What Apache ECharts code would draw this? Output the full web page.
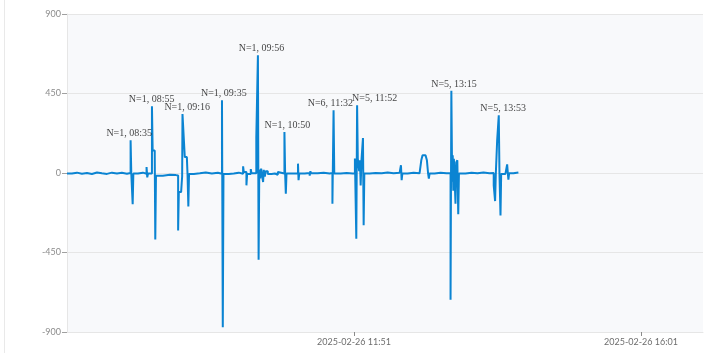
<!DOCTYPE html>
<html>
<head>
<meta charset="utf-8">
<script src="https://cdn.jsdelivr.net/npm/echarts@6/dist/echarts.min.js"></script>
<style>
  html, body { margin: 0; padding: 0; background: #ffffff; }
  #frame { position: absolute; left: 4px; top: 0; width: 1px; height: 353px; background: #e9e9e9; }
  #chart { position: absolute; left: 0; top: 0; width: 707px; height: 353px; }
</style>
</head>
<body>
<div id="frame"></div>
<div id="chart"></div>
<script>
// x values: minutes since 00:00 on 2025-02-26
const times = [
  461.0, 465.3, 469.7, 474.0, 478.4, 482.7, 487.1, 491.4, 495.8, 500.1, 504.5, 508.8, 513.2,
  516.4, 517.0, 518.2, 518.8, 522.8, 527.1, 530.3, 530.9, 531.6,
  535.0, 535.6, 537.4, 537.9, 538.5, 544.5, 550.6, 555.8,
  557.8, 558.4, 560.4, 560.9, 561.3, 561.6, 563.0, 563.6, 565.4, 566.0, 566.7, 567.3,
  571.5, 576.7, 581.9, 587.2, 592.4, 596.0, 596.7, 597.3,
  601.9, 606.3, 610.6, 614.4, 615.0, 617.3, 617.9, 621.1, 621.7,
  625.9, 627.3, 627.9, 628.5, 629.3, 630.1, 631.8, 632.4, 633.3, 634.1, 635.9,
  639.3, 642.0, 642.8, 643.7, 644.6, 646.3, 650.4, 651.0, 651.6, 652.2,
  656.7, 662.2, 662.7, 663.3, 668.1, 672.4, 673.0, 673.6, 679.4, 684.6, 689.8,
  692.2, 693.2, 693.8, 699.4, 704.6, 709.8,
  711.8, 713.0, 713.7, 714.3, 715.5, 716.2, 716.8, 717.5, 718.8, 719.4, 720.0,
  724.6, 729.8, 735.1, 740.3, 745.5, 750.7, 751.9, 752.5, 753.1, 757.7, 762.9, 768.1,
  769.6, 770.7, 773.3, 774.5, 775.5, 776.2, 776.8, 781.2, 786.4, 791.6,
  795.1, 795.8, 796.5, 797.0, 797.5, 798.0, 798.6, 799.4, 800.0, 801.0, 801.8, 802.4,
  808.1, 813.4, 818.6, 823.8, 829.0, 832.7, 833.9, 834.5, 835.7, 837.1, 837.7, 838.6, 839.2,
  842.9, 844.4, 845.0, 845.5, 846.1, 849.9, 854.2
];
const values = [
  -3, 2, -4, 0, -6, 3, -2, -5, 2, -3, 1, -4, 0,
  185, -3, -177, -3, 2, -4, 34, -25, -3,
  378, 128, 128, -377, -15, -10, -12, -14,
  -325, -108, -108, -58, -20, 334, 334, 90, 90, -10, -189, -5,
  -2, 3, -3, 1, -4, 412, -873, -5,
  -3, 2, -4, 38, 5, -70, -5, 22, -2,
  204, 667, -491, 20, -30, 25, -51, 18, -20, 10, -5,
  -3, -12, 8, -10, 6, -3, 232, -3, -117, -3,
  -2, 53, -41, -3, 0, -15, 10, -2, 2, -3, 0,
  -174, 355, -3, 0, -3, -2,
  82, -372, 384, 82, 10, 72, -70, 72, 198, -296, -3,
  0, -2, 3, -2, 1, -3, 44, -41, -3, 2, -2, 0,
  72, 100, 100, 72, 0, -32, -3, 2, -2, 0,
  -717, 465, -50, 100, -100, 80, 91, -174, 60, 72, -234, -3,
  2, -2, 3, -2, 0, -70, -159, -10, 185, 327, 0, -240, -5,
  2, 49, -2, -37, -2, 3, 5
];

// annotations
const noteTexts = ['N=1, 08:35', 'N=1, 08:55', 'N=1, 09:16', 'N=1, 09:35', 'N=1, 09:56',
                   'N=1, 10:50', 'N=6, 11:32', 'N=5, 11:52', 'N=5, 13:15', 'N=5, 13:53'];
const noteTimes = [515.2, 534.7, 565.7, 597.6, 630.4, 653.0, 690.4, 729.0, 798.1, 840.9];
const noteValues = [185, 378, 334, 412, 667, 232, 355, 384, 465, 327];

// axes
const xMin = 461, xMax = 1015;
const xTickMinutes = [711, 961];
const yMin = -900, yMax = 900, yStep = 450;

function fmtTime(m) {
  const h = Math.floor(m / 60), mm = Math.round(m - h * 60);
  return '2025-02-26 ' + String(h).padStart(2, '0') + ':' + String(mm).padStart(2, '0');
}

const chart = echarts.init(document.getElementById('chart'), null, { renderer: 'canvas' });
chart.setOption({
  animation: false,
  backgroundColor: 'transparent',
  grid: { left: 67, right: 4, top: 14, bottom: 21, show: true, backgroundColor: '#f8f9fb', borderWidth: 0 },
  xAxis: {
    type: 'value', min: xMin, max: xMax,
    axisLine: { show: true, onZero: false, lineStyle: { color: '#e6e6e6', width: 1 } },
    axisTick: { show: true, length: 4, customValues: xTickMinutes, lineStyle: { color: '#8a8a8a' } },
    axisLabel: {
      show: true, customValues: xTickMinutes, margin: 6,
      color: '#6e6e6e', fontFamily: 'Lato', fontSize: 9,
      formatter: v => fmtTime(v)
    },
    splitLine: { show: false }
  },
  yAxis: {
    type: 'value', min: yMin, max: yMax, interval: yStep,
    axisLine: { show: true, lineStyle: { color: '#e6e6e6', width: 1 } },
    axisTick: { show: true, length: 5, lineStyle: { color: '#a0a0a0' } },
    axisLabel: { color: '#8c8c8c', fontFamily: 'Lato', fontSize: 9, margin: 6 },
    splitLine: { show: true, lineStyle: { color: '#e6e6e6', width: 1 } }
  },
  series: [
    {
      type: 'line',
      data: times.map((t, i) => [t, values[i]]),
      step: 'end',
      showSymbol: false,
      symbol: 'none',
      lineStyle: { color: '#0b84d2', width: 2 },
      itemStyle: { color: '#0b84d2' },
      silent: true
    },
    {
      type: 'scatter',
      data: noteTimes.map((t, i) => [t, noteValues[i], noteTexts[i]]),
      symbolSize: 1,
      itemStyle: { color: 'rgba(0,0,0,0)' },
      silent: true,
      z: 5,
      label: {
        show: true, position: 'top', distance: 1,
        color: '#111111', fontSize: 10,
        fontFamily: "'Times New Roman', 'Liberation Serif', serif",
        formatter: p => p.data[2]
      }
    }
  ]
});
</script>
</body>
</html>
